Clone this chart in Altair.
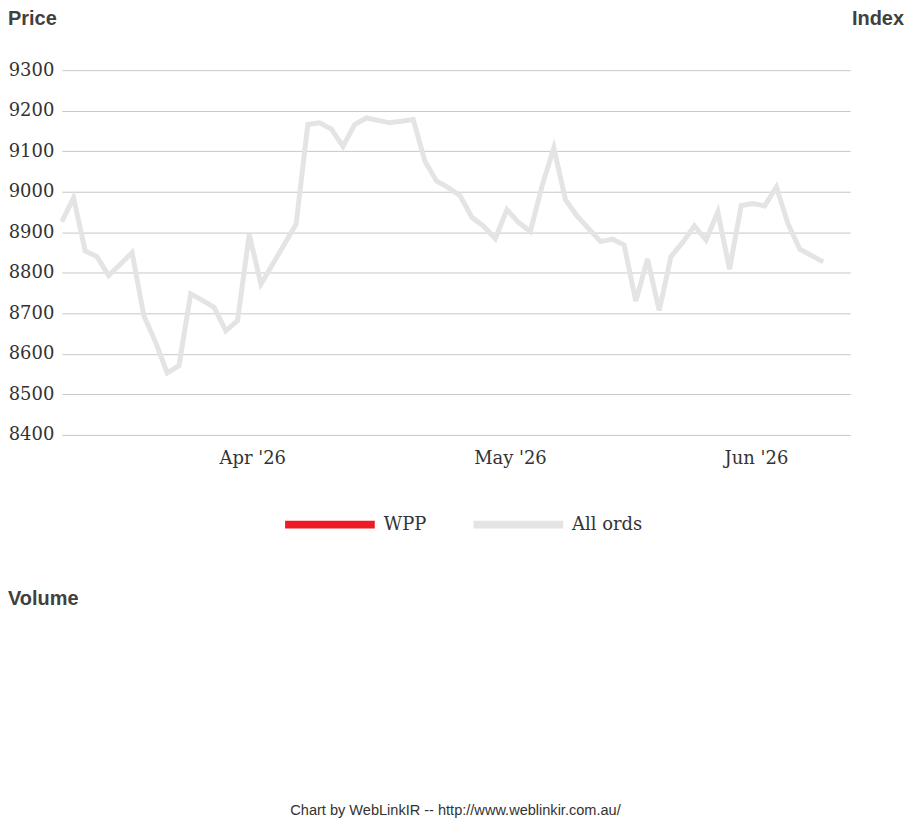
import altair as alt
import numpy as np
import pandas as pd

# ---- data ----
start_date = "2026-03-10"
dates = [
    "2026-03-10", "2026-03-11", "2026-03-12", "2026-03-13", "2026-03-16", "2026-03-17",
    "2026-03-18", "2026-03-19", "2026-03-20", "2026-03-23", "2026-03-24", "2026-03-25",
    "2026-03-26", "2026-03-27", "2026-03-30", "2026-03-31", "2026-04-01", "2026-04-02",
    "2026-04-07", "2026-04-08", "2026-04-09", "2026-04-10", "2026-04-13", "2026-04-14",
    "2026-04-15", "2026-04-16", "2026-04-17", "2026-04-20", "2026-04-21", "2026-04-22",
    "2026-04-23", "2026-04-24", "2026-04-27", "2026-04-28", "2026-04-29", "2026-04-30",
    "2026-05-01", "2026-05-04", "2026-05-05", "2026-05-06", "2026-05-07", "2026-05-08",
    "2026-05-11", "2026-05-12", "2026-05-13", "2026-05-14", "2026-05-15", "2026-05-18",
    "2026-05-19", "2026-05-20", "2026-05-21", "2026-05-22", "2026-05-25", "2026-05-26",
    "2026-05-27", "2026-05-28", "2026-05-29", "2026-06-01", "2026-06-02", "2026-06-03",
    "2026-06-04", "2026-06-05", "2026-06-09",
]
all_ords = [
    8926, 8985, 8854, 8840, 8793, 8821,
    8850, 8694, 8629, 8553, 8571, 8748,
    8732, 8715, 8657, 8682, 8895, 8772,
    8920, 9166, 9170, 9155, 9112, 9166,
    9182, 9176, 9170, 9174, 9178, 9075,
    9026, 9010, 8990, 8937, 8915, 8884,
    8956, 8924, 8902, 9015, 9108, 8980,
    8940, 8908, 8877, 8883, 8869, 8730,
    8834, 8707, 8840, 8875, 8916, 8881,
    8950, 8809, 8966, 8971, 8965, 9012,
    8920, 8858, 8827,
]
series_names = ["WPP", "All ords"]
series_colors = ["#ed1c24", "#e4e4e4"]
y_ticks = [8400, 8500, 8600, 8700, 8800, 8900, 9000, 9100, 9200, 9300]
tick_dates = ["2026-04-01", "2026-05-01", "2026-06-01"]
tick_labels = ["Apr '26", "May '26", "Jun '26"]
footer_text = ["Chart by WebLinkIR -- http://www.weblinkir.com.au/"]

# ---- tables ----
d0 = np.datetime64(start_date)
df = pd.DataFrame({"date": dates, "value": all_ords, "series": "All ords"})
df["idx"] = np.busday_count(d0, np.array(dates, dtype="datetime64[D]")).astype(int)
tick_idx = [int(v) for v in np.busday_count(d0, np.array(tick_dates, dtype="datetime64[D]"))]

label_expr = ""
for i, lab in zip(tick_idx, tick_labels):
    label_expr += f'datum.value == {i} ? "{lab}" : '
label_expr += '""'

PLOT_W = 791
PLOT_H = 366
SERIF = "DejaVu Serif"
SANS = "Liberation Sans"

line = alt.Chart(df).mark_line(strokeWidth=5, strokeJoin="miter", strokeCap="butt").encode(
    x=alt.X(
        "idx:Q",
        scale=alt.Scale(domain=[0, 67.3], nice=False, zero=False),
        axis=alt.Axis(
            values=tick_idx, labelExpr=label_expr, title=None, grid=False, ticks=False,
            domain=False, labelFont=SERIF, labelFontSize=18, labelColor="#333333",
            labelPadding=15, labelOffset=3, labelFlush=False,
        ),
    ),
    y=alt.Y(
        "value:Q",
        scale=alt.Scale(domain=[8400, 9300], nice=False, zero=False),
        axis=alt.Axis(
            values=y_ticks, format="d", title=None, grid=True, gridColor="#c8c8c8", gridWidth=1,
            ticks=False, domain=False, labelFont=SERIF, labelFontSize=18,
            labelColor="#333333", labelPadding=8,
        ),
    ),
    color=alt.Color(
        "series:N",
        scale=alt.Scale(domain=series_names, range=series_colors),
        legend=alt.Legend(
            title=None, orient="none", legendX=220, legendY=407, direction="horizontal",
            symbolType="stroke", symbolSize=8100, symbolStrokeWidth=8,
            labelFont=SERIF, labelFontSize=18, labelColor="#333333",
            columnPadding=31, labelOffset=5,
        ),
    ),
)

def label_text(txt, x, y, align, size=20, weight="bold", color="#404040"):
    return alt.Chart(pd.DataFrame({"t": [txt]})).mark_text(
        align=align, baseline="middle", font=SANS, fontSize=size,
        fontWeight=weight, color=color,
    ).encode(text="t:N", x=alt.value(x), y=alt.value(y))

price_t = label_text("Price", -54, -51, "left")
index_t = label_text("Index", PLOT_W + 54, -51, "right")
volume_t = label_text("Volume", -54, 531, "left")
footer_t = label_text(footer_text[0], 395, 743, "center", size=14.6, weight="normal", color="#333333")

chart = alt.layer(line, price_t, index_t, volume_t, footer_t).properties(
    width=PLOT_W, height=PLOT_H,
    padding={"left": 0, "top": 0, "right": 0, "bottom": 0},
    background="white",
).configure_view(stroke=None)

chart.save("out.html", embed_options={"renderer": "svg", "actions": False})
